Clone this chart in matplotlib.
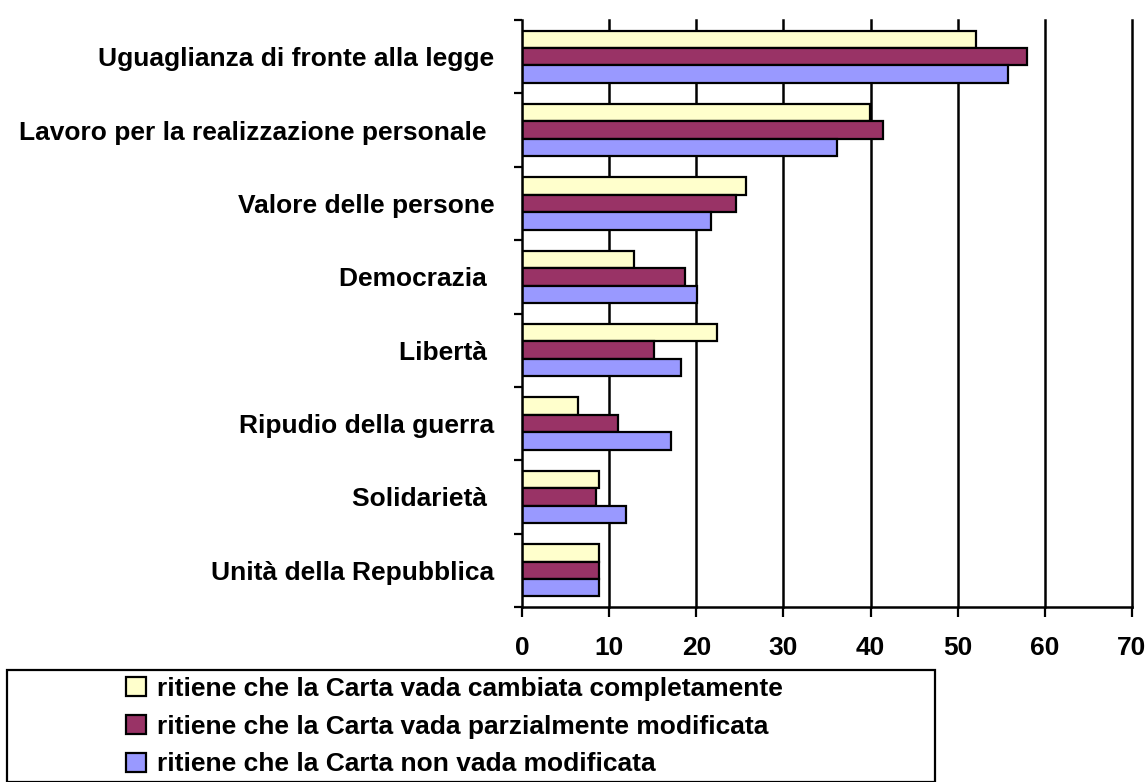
import numpy as np
import matplotlib
matplotlib.use('Agg')
import matplotlib.pyplot as plt
from matplotlib.patches import Rectangle

categories = ['Uguaglianza di fronte alla legge',
              'Lavoro per la realizzazione personale ',
              'Valore delle persone',
              'Democrazia ',
              'Libertà ',
              'Ripudio della guerra',
              'Solidarietà ',
              'Unità della Repubblica']
series_names = ['ritiene che la Carta vada cambiata completamente',
                'ritiene che la Carta vada parzialmente modificata',
                'ritiene che la Carta non vada modificata']
cambiata = [52.1, 39.9, 25.7, 12.8, 22.4, 6.4, 8.8, 8.8]
parziale = [58.0, 41.4, 24.5, 18.7, 15.2, 11.0, 8.5, 8.8]
non_mod = [55.8, 36.1, 21.7, 20.1, 18.3, 17.1, 11.9, 8.8]
colors = ['#FFFFCC', '#993366', '#9999FF']
xticks = [0, 10, 20, 30, 40, 50, 60, 70]

plt.rcParams['font.family'] = ['Liberation Sans', 'DejaVu Sans']
plt.rcParams['font.weight'] = 'bold'
FS = 19

W, H = 1145, 782
fig = plt.figure(figsize=(W/100, H/100), dpi=100)
ax = fig.add_axes([522/W, 1 - 607/H, (1132-522)/W, (607-20)/H])

y = np.arange(len(categories))
bh = 0.237
for i, vals in enumerate([cambiata, parziale, non_mod]):
    ax.barh(y + (i - 1)*bh, vals, height=bh, color=colors[i],
            edgecolor='black', linewidth=1.6, label=series_names[i], zorder=3)

ax.set_xlim(0, 70)
ax.set_ylim(len(categories) - 0.5, -0.5)
ax.set_xticks(xticks)
ax.set_xticklabels([str(t) for t in xticks], fontsize=FS, fontweight='bold')
ax.set_yticks(y)
ax.set_yticklabels(categories, fontsize=FS, fontweight='bold')
ax.set_yticks(np.arange(-0.5, len(categories)), minor=True)
ax.tick_params(axis='y', which='major', length=0, pad=20)
ax.tick_params(axis='y', which='minor', length=6, width=1.6, direction='out')
ax.tick_params(axis='x', which='major', length=7, width=1.6, direction='out', pad=14)

for t in xticks[1:]:
    ax.axvline(t, color='black', linewidth=1.8, zorder=1, clip_on=False)

for s in ['top', 'right']:
    ax.spines[s].set_visible(False)
for s in ['left', 'bottom']:
    ax.spines[s].set_linewidth(1.8)
    ax.spines[s].set_zorder(4)

# legend box
fig.patches.append(Rectangle((7/W, 0), (935-7)/W, 1 - 670/H, transform=fig.transFigure,
                             fill=False, edgecolor='black', linewidth=1.6))
leg = fig.legend(loc='upper left', bbox_to_anchor=(126/W, 1 - 677/H), frameon=False,
                 prop={'size': FS, 'weight': 'bold'}, handlelength=0.76, handleheight=0.72,
                 handletextpad=0.4, labelspacing=0.52, borderpad=0, borderaxespad=0)

fig.savefig('out.png', dpi=100)
